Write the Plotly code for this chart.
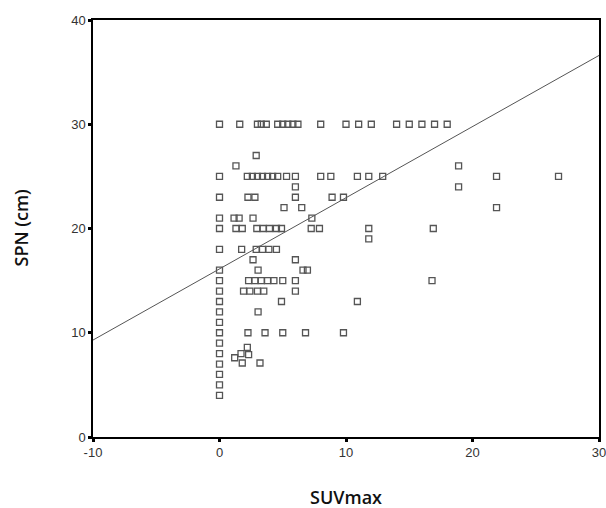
import plotly.graph_objects as go

# Scatter data: SUVmax (x) vs SPN in cm (y)
suv = [
    # y = 30 row
    0, 1.6, 3.0, 3.3, 3.7, 4.6, 5.0, 5.4, 5.8, 6.2, 8.0, 10, 11, 12, 14, 15, 16, 17, 18,
    # upper singles
    2.9, 1.3, 18.9,
    # y = 25 row
    0, 2.2, 2.6, 3.0, 3.4, 3.8, 4.2, 4.6, 5.3, 6.0, 8.0, 8.8, 10.9, 11.8, 12.9, 21.9, 26.8,
    # y = 24 / 23 / 22
    6.0, 18.9,
    0, 2.25, 2.8, 6.0, 8.9, 9.8,
    5.1, 6.5, 21.9,
    # y = 21 / 20
    0, 1.15, 1.55, 2.65, 7.3,
    0, 1.3, 1.8, 2.95, 3.45, 3.95, 4.5, 4.9, 7.25, 7.9, 11.8, 16.9,
    # y = 19 / 18 / 17 / 16
    11.8,
    0, 1.75, 2.9, 3.4, 3.9, 4.5,
    2.65, 6.0,
    0, 3.05, 6.6, 6.95,
    # y = 15 / 14 / 13 / 12 / 11 / 10
    0, 2.3, 2.8, 3.3, 3.8, 4.3, 5.0, 6.0, 16.8,
    0, 1.9, 2.4, 3.0, 3.5, 6.0,
    0, 4.9, 10.9,
    0, 3.05,
    0,
    0, 2.25, 3.6, 5.0, 6.8, 9.8,
    # low values
    0, 0, 0, 0, 0, 0,
    1.2, 1.7, 2.2, 2.3, 1.8, 3.2,
]
spn = [
    30, 30, 30, 30, 30, 30, 30, 30, 30, 30, 30, 30, 30, 30, 30, 30, 30, 30, 30,
    27, 26, 26,
    25, 25, 25, 25, 25, 25, 25, 25, 25, 25, 25, 25, 25, 25, 25, 25, 25,
    24, 24,
    23, 23, 23, 23, 23, 23,
    22, 22, 22,
    21, 21, 21, 21, 21,
    20, 20, 20, 20, 20, 20, 20, 20, 20, 20, 20, 20,
    19,
    18, 18, 18, 18, 18, 18,
    17, 17,
    16, 16, 16, 16,
    15, 15, 15, 15, 15, 15, 15, 15, 15,
    14, 14, 14, 14, 14, 14,
    13, 13, 13,
    12, 12,
    11,
    10, 10, 10, 10, 10, 10,
    9, 8, 7, 6, 5, 4,
    7.6, 8.0, 8.6, 7.9, 7.1, 7.1,
]

# Fit line end points
fit_x = [-10, 30]
fit_y = [9.3, 36.6]

x_ticks = [-10, 0, 10, 20, 30]
y_ticks = [0, 10, 20, 30, 40]

fig = go.Figure()
fig.add_trace(go.Scatter(
    x=fit_x, y=fit_y, mode="lines",
    line=dict(color="#555555", width=1),
    hoverinfo="skip", showlegend=False,
))
fig.add_trace(go.Scatter(
    x=suv, y=spn, mode="markers",
    marker=dict(symbol="square-open", size=6, color="#555555",
                line=dict(width=1.3, color="#555555")),
    showlegend=False,
))

axis_common = dict(
    showgrid=False, zeroline=False, automargin=False,
    showline=True, linecolor="black", linewidth=1.5, mirror=True,
    ticks="outside", ticklen=3, tickwidth=3, tickcolor="black",
    ticklabeloverflow="allow",
    tickfont=dict(family="Liberation Sans, Arial, sans-serif", size=13, color="#333333"),
)

title_font = dict(family="Open Sans, sans-serif", size=18, color="#111111", weight=600)

fig.update_layout(
    width=606, height=508,
    margin=dict(l=93, r=7, t=20, b=71, autoexpand=False),
    paper_bgcolor="white", plot_bgcolor="white",
    xaxis=dict(range=[-10, 30], tickvals=x_ticks, ticktext=[str(v) for v in x_ticks],
               **axis_common),
    yaxis=dict(range=[0, 40], tickvals=y_ticks, ticktext=[str(v) for v in y_ticks],
               **axis_common),
    annotations=[
        dict(text="SUVmax", xref="paper", yref="paper", x=0.5, y=0,
             xanchor="center", yanchor="middle", yshift=-60, showarrow=False,
             font=title_font),
        dict(text="SPN (cm)", xref="paper", yref="paper", x=0, y=0.5,
             xanchor="center", yanchor="middle", xshift=-73, textangle=-90,
             showarrow=False, font=title_font),
    ],
)

fig.write_html(
    "out.html",
    config={"displayModeBar": False},
    post_script="document.body.style.margin='0';document.documentElement.style.overflow='hidden';",
)
